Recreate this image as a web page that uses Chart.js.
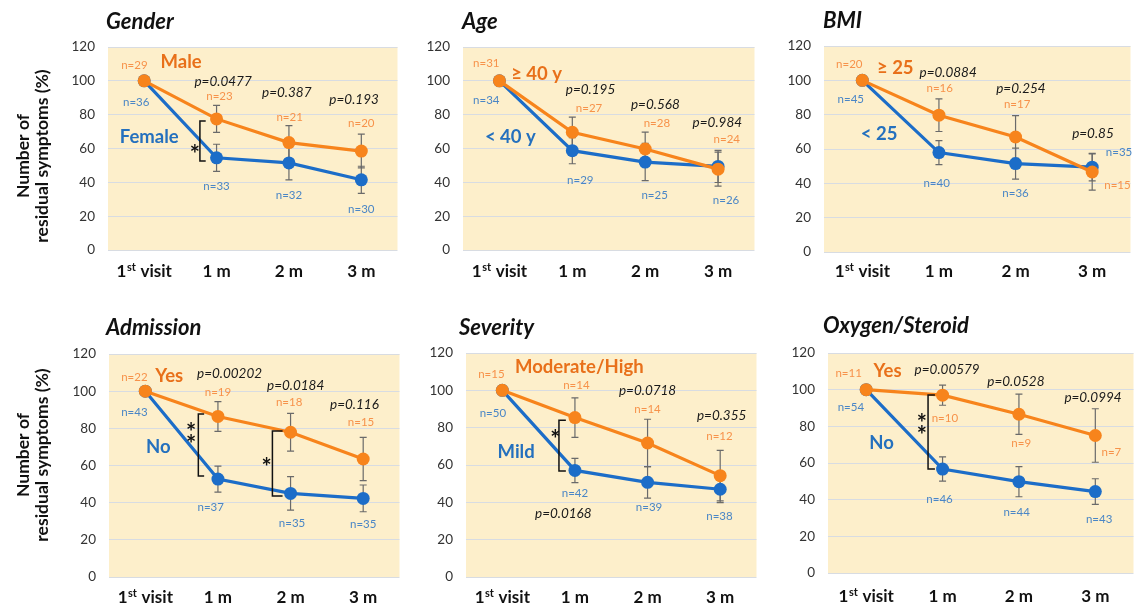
<!DOCTYPE html>
<html><head><meta charset="utf-8">
<script src="https://cdn.jsdelivr.net/npm/chart.js@4.4.0/dist/chart.umd.min.js"></script>
<style>
html,body{margin:0;padding:0;background:#fff;overflow:hidden;width:1137px;height:608px;}
#wrap{position:relative;width:1137px;height:608px;overflow:hidden;}
canvas{position:absolute;}
</style></head><body>
<div id="wrap">
<canvas id="c0"></canvas><canvas id="c1"></canvas><canvas id="c2"></canvas>
<canvas id="c3"></canvas><canvas id="c4"></canvas><canvas id="c5"></canvas>
</div>
<script>
// ---------- data ----------
const categories = ['1st visit', '1 m', '2 m', '3 m'];
const yTickValues = [0, 20, 40, 60, 80, 100, 120];
const yAxisTitle = ['Number of', 'residual symptoms (%)'];

// Gender
const genderMale = [100, 77.5, 63.5, 58.5];
const genderMaleSE = [0, 8, 10, 10];
const genderMaleN = [29, 23, 21, 20];
const genderFemale = [100, 54.5, 51.5, 41.5];
const genderFemaleSE = [0, 8, 10, 8];
const genderFemaleN = [36, 33, 32, 30];
const genderP = ['', 'p=0.0477', 'p=0.387', 'p=0.193'];

// Age
const ageOld = [100, 69.6, 59.7, 47.8];
const ageOldSE = [0, 9, 10, 10];
const ageOldN = [31, 27, 28, 24];
const ageYoung = [100, 58.7, 52, 49.4];
const ageYoungSE = [0, 7.7, 11, 9.5];
const ageYoungN = [34, 29, 25, 26];
const ageP = ['', 'p=0.195', 'p=0.568', 'p=0.984'];

// BMI
const bmiHigh = [100, 79.7, 67, 46.6];
const bmiHighSE = [0, 9.5, 12.5, 10.5];
const bmiHighN = [20, 16, 17, 15];
const bmiLow = [100, 57.9, 51.5, 49.4];
const bmiLowSE = [0, 7, 9, 8];
const bmiLowN = [45, 40, 36, 35];
const bmiP = ['', 'p=0.0884', 'p=0.254', 'p=0.85'];

// Admission
const admYes = [100, 86.4, 77.9, 63.5];
const admYesSE = [0, 8, 10.2, 11.6];
const admYesN = [22, 19, 18, 15];
const admNo = [100, 52.7, 45, 42.3];
const admNoSE = [0, 7, 9, 7.2];
const admNoN = [43, 37, 35, 35];
const admP = ['', 'p=0.00202', 'p=0.0184', 'p=0.116'];

// Severity
const sevHigh = [100, 85.4, 71.8, 54.3];
const sevHighSE = [0, 10.6, 12.7, 13.5];
const sevHighN = [15, 14, 14, 12];
const sevMild = [100, 57.1, 50.7, 47];
const sevMildSE = [0, 6.5, 8.4, 7.2];
const sevMildN = [50, 42, 39, 38];
const sevP = ['', 'p=0.0168', 'p=0.0718', 'p=0.355'];

// Oxygen/Steroid
const oxyYes = [100, 97, 86.6, 75];
const oxyYesSE = [0, 5.5, 11, 14.6];
const oxyYesN = [11, 10, 9, 7];
const oxyNo = [100, 56.7, 49.8, 44.4];
const oxyNoSE = [0, 6.6, 8.2, 7];
const oxyNoN = [54, 46, 44, 43];
const oxyP = ['', 'p=0.00579', 'p=0.0528', 'p=0.0994'];

// ---------- styles ----------
const ORANGE = '#F7841C', BLUE = '#1C6DC8';
const ORANGE_TXT = '#E8701A', BLUE_TXT = '#2470BE';
const ORANGE_N = '#F7924A', BLUE_N = '#4A86C6';
const FONT = 'Lato, "Open Sans", "DejaVu Sans", sans-serif';
const BG = '#FDEFCB', GRID = '#D8DCE2';

// ---------- layout (label anchors in data space: [category index, value]) ----------
const panels = [
 { id:'c0', title:'Gender', box:[0,0,404,300], plot:{left:108, top:47, bottom:250}, titleAt:[106,29], xLabelY:277, yTitleY:156,
   a:{v:genderMale, se:genderMaleSE, n:genderMaleN, name:'Male'}, b:{v:genderFemale, se:genderFemaleSE, n:genderFemaleN, name:'Female'}, p:genderP,
   lay:{ nA:[[-0.135,109.3],[1.04,91],[2.01,78.6],[3.0,75]], nB:[[-0.11,87.5],[1.0,37.8],[2.0,32.5],[3.0,24.2]],
         p:[null,[1.09,99.3],[1.97,92.8],[2.9,88.7]], gA:[0.51,111], gB:[0.07,66.8],
         br:[{x:0.77, x2:0.85, y1:76.2, y2:52.6, sx:0.70, sy:[60.3]}] } },
 { id:'c1', title:'Age', box:[420,0,341,300], plot:{left:463, top:47, bottom:250}, titleAt:[462,29], xLabelY:277,
   a:{v:ageOld, se:ageOldSE, n:ageOldN, name:'\u2265 40 y'}, b:{v:ageYoung, se:ageYoungSE, n:ageYoungN, name:'< 40 y'}, p:ageP,
   lay:{ nA:[[-0.18,110.5],[1.23,83.9],[2.16,75],[3.12,65.6]], nB:[[-0.18,88.7],[1.11,41.4],[2.13,32.5],[3.11,29.6]],
         p:[null,[1.25,94.6],[2.14,85.7],[2.99,75]], gA:[0.51,104], gB:[0.15,66.8], br:[] } },
 { id:'c2', title:'BMI', box:[780,0,357,300], plot:{left:824, top:46, bottom:252}, titleAt:[823,28], xLabelY:277,
   a:{v:bmiHigh, se:bmiHighSE, n:bmiHighN, name:'\u2265 25'}, b:{v:bmiLow, se:bmiLowSE, n:bmiLowN, name:'< 25'}, p:bmiP,
   lay:{ nA:[[-0.17,109.4],[1.01,95.4],[2.02,86],[3.33,39]], nB:[[-0.15,89],[0.97,40],[2.0,34.3],[3.35,58]],
         p:[null,[1.12,104.7],[2.07,95.4],[3.01,69]], gA:[0.43,107], gB:[0.22,69], br:[] } },
 { id:'c3', title:'Admission', box:[0,300,406,308], plot:{left:109, top:354, bottom:577}, titleAt:[106,335], xLabelY:603, yTitleY:455,
   a:{v:admYes, se:admYesSE, n:admYesN, name:'Yes'}, b:{v:admNo, se:admNoSE, n:admNoN, name:'No'}, p:admP,
   lay:{ nA:[[-0.15,107.6],[1.0,99.6],[1.98,94.2],[2.97,83.4]], nB:[[-0.15,88.8],[0.9,37.7],[2.02,29],[3.0,28.5]],
         p:[null,[1.16,109.3],[2.07,102.8],[2.88,92.6]], gA:[0.33,108.2], gB:[0.18,70],
         br:[{x:0.73, x2:0.81, y1:87.7, y2:54.4, sx:0.63, sy:[81.3,74.8]}, {x:1.75, x2:1.89, y1:78.6, y2:43.6, sx:1.67, sy:[62.4]}] } },
 { id:'c4', title:'Severity', box:[420,300,343,308], plot:{left:466, top:353, bottom:577}, titleAt:[459,335], xLabelY:603,
   a:{v:sevHigh, se:sevHighSE, n:sevHighN, name:'Moderate/High'}, b:{v:sevMild, se:sevMildSE, n:sevMildN, name:'Mild'}, p:sevP,
   lay:{ nA:[[-0.15,108.7],[1.02,102.8],[2.0,90],[2.99,75.5]], nB:[[-0.13,87.8],[1.0,45],[2.02,37.5],[2.99,32.7]],
         p:[null,[0.84,33.7],[2.0,99.6],[3.02,86.2]], gA:[1.06,112.5], gB:[0.19,67],
         br:[{x:0.78, x2:0.875, y1:84, y2:56.8, sx:0.73, sy:[77.1]}] } },
 { id:'c5', title:'Oxygen/Steroid', box:[780,300,360,308], plot:{left:828, top:353, bottom:573}, titleAt:[823,333], xLabelY:602,
   a:{v:oxyYes, se:oxyYesSE, n:oxyYesN, name:'Yes'}, b:{v:oxyNo, se:oxyNoSE, n:oxyNoN, name:'No'}, p:oxyP,
   lay:{ nA:[[-0.23,109],[1.03,84.2],[2.03,71],[3.21,66]], nB:[[-0.2,90.6],[0.96,40.4],[1.97,33.3],[3.05,29.5]],
         p:[null,[1.06,110.7],[1.96,104.2],[2.97,95.5]], gA:[0.28,110.2], gB:[0.2,71],
         br:[{x:0.81, x2:0.9, y1:97.1, y2:56.7, sx:0.73, sy:[85.1,78.5]}] } }
];

function txt(ctx, s, x, y, font, color, align, base) {
  ctx.font = font; ctx.fillStyle = color;
  ctx.textAlign = align || 'center'; ctx.textBaseline = base || 'middle';
  ctx.fillText(s, x, y);
}

function drawCatLabel(ctx, label, cx, y) {
  const big = 'bold 17px ' + FONT, small = 'bold 11px ' + FONT;
  ctx.fillStyle = '#111'; ctx.textBaseline = 'alphabetic'; ctx.textAlign = 'left';
  const m = label.match(/^(\d+)(st|nd|rd|th)(.*)$/);
  if (m) {
    ctx.font = big; const w1 = ctx.measureText(m[1]).width, w3 = ctx.measureText(m[3]).width;
    ctx.font = small; const w2 = ctx.measureText(m[2]).width;
    let x = cx - (w1 + w2 + 1 + w3) / 2;
    ctx.font = big; ctx.fillText(m[1], x, y); x += w1 + 0.5;
    ctx.font = small; ctx.fillText(m[2], x, y - 6); x += w2 + 0.5;
    ctx.font = big; ctx.fillText(m[3], x, y);
  } else {
    ctx.font = big; ctx.textAlign = 'center'; ctx.fillText(label, cx, y);
  }
}

const annotPlugin = {
  id: 'annot',
  beforeDraw(chart) {
    const a = chart.chartArea, ctx = chart.ctx;
    ctx.save(); ctx.fillStyle = BG; ctx.fillRect(a.left, a.top, a.right - a.left, a.bottom - a.top); ctx.restore();
  },
  beforeDatasetsDraw(chart) {
    const P = chart.options.plugins.annot.panel, ctx = chart.ctx;
    const xs = chart.scales.x, ys = chart.scales.y;
    ctx.save(); ctx.strokeStyle = '#6a6a6a'; ctx.lineWidth = 1.2;
    [P.a, P.b].forEach(s => {
      s.v.forEach((v, i) => {
        if (!s.se[i]) return;
        const x = xs.getPixelForValue(i), y1 = ys.getPixelForValue(v + s.se[i]), y2 = ys.getPixelForValue(v - s.se[i]);
        ctx.beginPath();
        ctx.moveTo(x, y1); ctx.lineTo(x, y2);
        ctx.moveTo(x - 3.5, y1); ctx.lineTo(x + 3.5, y1);
        ctx.moveTo(x - 3.5, y2); ctx.lineTo(x + 3.5, y2);
        ctx.stroke();
      });
    });
    ctx.restore();
  },
  afterDatasetsDraw(chart) {
    const P = chart.options.plugins.annot.panel, ctx = chart.ctx, L = P.lay;
    const xs = chart.scales.x, ys = chart.scales.y;
    const X = i => xs.getPixelForValue(i), Y = v => ys.getPixelForValue(v);
    const ox = P.box[0], oy = P.box[1];
    ctx.save();
    // n labels
    const nFont = '11.5px ' + FONT;
    P.a.n.forEach((n, i) => txt(ctx, 'n=' + n, X(L.nA[i][0]), Y(L.nA[i][1]), nFont, ORANGE_N));
    P.b.n.forEach((n, i) => txt(ctx, 'n=' + n, X(L.nB[i][0]), Y(L.nB[i][1]), nFont, BLUE_N));
    // p values
    P.p.forEach((s, i) => { if (s && L.p[i]) txt(ctx, s, X(L.p[i][0]), Y(L.p[i][1]), 'italic 13.5px ' + FONT, '#1a1a1a'); });
    // group names
    txt(ctx, P.a.name, X(L.gA[0]), Y(L.gA[1]), 'bold 18.5px ' + FONT, ORANGE_TXT);
    txt(ctx, P.b.name, X(L.gB[0]), Y(L.gB[1]), 'bold 18.5px ' + FONT, BLUE_TXT);
    // brackets and stars
    ctx.strokeStyle = '#111'; ctx.lineWidth = 1.5;
    L.br.forEach(b => {
      ctx.beginPath();
      ctx.moveTo(X(b.x2), Y(b.y1)); ctx.lineTo(X(b.x), Y(b.y1)); ctx.lineTo(X(b.x), Y(b.y2)); ctx.lineTo(X(b.x2), Y(b.y2));
      ctx.stroke();
      b.sy.forEach(v => txt(ctx, '*', X(b.sx), Y(v) + 7, 'bold 24px ' + FONT, '#111'));
    });
    // category labels
    categories.forEach((c, i) => drawCatLabel(ctx, c, X(i), P.xLabelY - oy));
    // title
    txt(ctx, P.title, P.titleAt[0] - ox, P.titleAt[1] - oy, 'italic bold 22px ' + FONT, '#111', 'left', 'alphabetic');
    // y-axis title
    if (P.yTitleY) {
      ctx.save();
      ctx.font = 'bold 17.5px ' + FONT; ctx.fillStyle = '#111'; ctx.textAlign = 'center'; ctx.textBaseline = 'middle';
      [[yAxisTitle[0], 23], [yAxisTitle[1], 42]].forEach(([s, x]) => {
        ctx.save(); ctx.translate(x - ox, P.yTitleY - oy); ctx.rotate(-Math.PI / 2); ctx.fillText(s, 0, 0); ctx.restore();
      });
      ctx.restore();
    }
    ctx.restore();
  }
};

panels.forEach(P => {
  const cv = document.getElementById(P.id);
  cv.style.left = P.box[0] + 'px'; cv.style.top = P.box[1] + 'px';
  cv.width = P.box[2]; cv.height = P.box[3];
  const yW = P.plot.left - P.box[0];
  const xH = P.box[1] + P.box[3] - P.plot.bottom;
  new Chart(cv, {
    type: 'line',
    data: {
      labels: categories,
      datasets: [
        { data: P.a.v, borderColor: ORANGE, backgroundColor: ORANGE, borderWidth: 3.2, pointRadius: 6.5, pointHoverRadius: 6.5, pointBorderWidth: 0, tension: 0 },
        { data: P.b.v, borderColor: BLUE, backgroundColor: BLUE, borderWidth: 3.2, pointRadius: 6.5, pointHoverRadius: 6.5, pointBorderWidth: 0, tension: 0 }
      ]
    },
    options: {
      responsive: false, animation: false, events: [],
      layout: { padding: { top: P.plot.top - P.box[1], left: 0, right: 0, bottom: 0 } },
      plugins: { legend: { display: false }, tooltip: { enabled: false }, annot: { panel: P } },
      scales: {
        x: { type: 'category', offset: true, grid: { display: false, drawTicks: false }, border: { display: false },
             ticks: { display: false }, afterFit: s => { s.height = xH; } },
        y: { min: 0, max: 120, grid: { color: GRID, lineWidth: 1, drawTicks: false }, border: { display: false },
             afterBuildTicks: s => { s.ticks = yTickValues.map(v => ({ value: v })); },
             ticks: { padding: 13, color: '#333', font: { family: FONT, size: 13.5 } },
             afterFit: s => { s.width = yW; } }
      }
    },
    plugins: [annotPlugin]
  });
});
</script>
</body></html>
